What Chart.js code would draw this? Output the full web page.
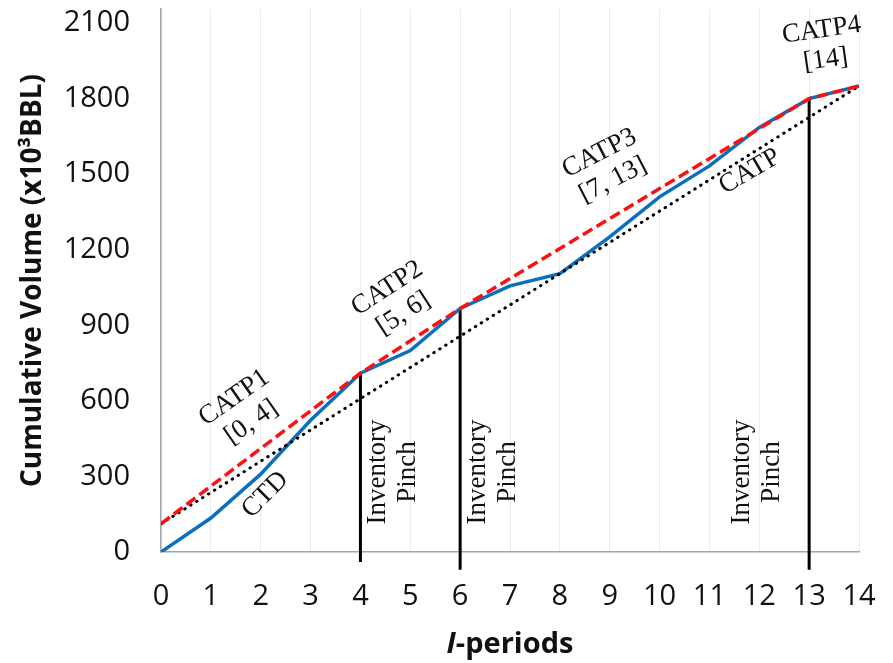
<!DOCTYPE html>
<html>
<head>
<meta charset="utf-8">
<script src="https://cdn.jsdelivr.net/npm/chart.js@4.4.1/dist/chart.umd.min.js"></script>
<style>
  body { margin: 0; background: #fff; }
  #wrap { width: 893px; height: 663px; position: relative; }
</style>
</head>
<body>
<div id="wrap"><canvas id="chart"></canvas></div>
<script>
// values
const periods = [0, 1, 2, 3, 4, 5, 6, 7, 8, 9, 10, 11, 12, 13, 14];
const ctdVolumes = [0, 135, 309, 523, 710, 800, 967, 1057, 1105, 1251, 1410, 1533, 1686, 1800, 1850];
const catpPeriods = [0, 4, 6, 13, 14];
const catpVolumes = [112, 710, 967, 1800, 1850];
const overallPeriods = [0, 14];
const overallVolumes = [112, 1850];
const pinchPeriods = [4, 6, 13];
const pinchTops = [710, 967, 1800];
const pinchBottoms = [-40, -70, -70];
const yTickValues = [0, 300, 600, 900, 1200, 1500, 1800, 2100];

// text placed on the plot (data coords)
const notes = [
  { lines: ['CATP1', '[0, 4]'], x: 1.64, y: 564, angle: -35 },
  { lines: ['CTD'], x: 2.09, y: 227, angle: -45 },
  { lines: ['CATP2', '[5, 6]'], x: 4.70, y: 997, angle: -33 },
  { lines: ['Inventory', 'Pinch'], x: 4.66, y: 318, angle: -90 },
  { lines: ['Inventory', 'Pinch'], x: 6.66, y: 318, angle: -90 },
  { lines: ['Inventory', 'Pinch'], x: 11.95, y: 318, angle: -90 },
  { lines: ['CATP3', '[7, 13]'], x: 8.93, y: 1530, angle: -27 },
  { lines: ['CATP'], x: 11.81, y: 1510, angle: -30 },
  { lines: ['CATP4', '[14]'], x: 13.29, y: 2013, angle: -8 }
];

const pts = (xs, ys) => xs.map((v, i) => ({ x: v, y: ys[i] }));

Chart.defaults.font.family = "'Open Sans', sans-serif";
Chart.defaults.color = '#111';

const datasets = [
  {
    label: 'CATP segments',
    data: pts(catpPeriods, catpVolumes),
    borderColor: '#ff1010',
    borderWidth: 3.5,
    borderDash: [11, 5],
    order: 0
  },
  {
    label: 'CATP',
    data: pts(overallPeriods, overallVolumes),
    borderColor: '#000',
    borderWidth: 3,
    borderDash: [0.5, 6.5],
    borderCapStyle: 'round',
    order: 1
  },
  {
    label: 'CTD',
    data: pts(periods, ctdVolumes),
    borderColor: '#0b6fc0',
    borderWidth: 3.5,
    order: 2
  }
];
pinchPeriods.forEach((p, i) => {
  datasets.push({
    label: 'pinch ' + p,
    data: [{ x: p, y: pinchTops[i] }, { x: p, y: pinchBottoms[i] }],
    borderColor: '#000',
    borderWidth: 3,
    clip: false,
    order: 3
  });
});

const notesPlugin = {
  id: 'notes',
  afterDatasetsDraw(chart) {
    const { ctx, scales: { x, y }, chartArea } = chart;
    ctx.save();
    ctx.fillStyle = '#111';
    ctx.font = '27px "Liberation Serif", "Times New Roman", serif';
    ctx.textAlign = 'center';
    ctx.textBaseline = 'middle';
    notes.forEach(n => {
      ctx.save();
      ctx.translate(x.getPixelForValue(n.x), y.getPixelForValue(n.y));
      ctx.rotate(n.angle * Math.PI / 180);
      n.lines.forEach((t, i) => {
        ctx.fillText(t, 0, (i - (n.lines.length - 1) / 2) * 30);
      });
      ctx.restore();
    });

    // x axis title with italic "I"
    const cx = (chartArea.left + chartArea.right) / 2;
    const base = 653;
    const fi = "italic bold 29px 'Open Sans', sans-serif";
    const fb = "bold 29px 'Open Sans', sans-serif";
    ctx.textAlign = 'left';
    ctx.textBaseline = 'alphabetic';
    ctx.font = fi;
    const wI = ctx.measureText('I').width;
    ctx.font = fb;
    const wR = ctx.measureText('-periods').width;
    const start = cx - (wI + wR) / 2;
    ctx.font = fi;
    ctx.fillText('I', start, base);
    ctx.font = fb;
    ctx.fillText('-periods', start + wI, base);
    ctx.restore();
  }
};

new Chart(document.getElementById('chart'), {
  type: 'line',
  data: { datasets },
  options: {
    responsive: true,
    maintainAspectRatio: false,
    animation: false,
    layout: { padding: { top: 9, right: 34, left: 0, bottom: 0 } },
    elements: { point: { radius: 0 }, line: { tension: 0 } },
    plugins: { legend: { display: false }, tooltip: { enabled: false } },
    scales: {
      x: {
        type: 'linear',
        min: 0,
        max: 14,
        ticks: { stepSize: 1, font: { size: 29 }, color: '#111', padding: 27, callback: v => String(v) },
        grid: { color: '#ebebeb', lineWidth: 1, drawTicks: false },
        border: { display: true, color: '#a6a6a6', width: 1.5 },
        afterFit(s) {
          s.height = 111;
          s.paddingLeft = 0; s.paddingRight = 0;
        }
      },
      y: {
        type: 'linear',
        min: 0,
        max: 2156,
        afterBuildTicks(s) { s.ticks = yTickValues.map(v => ({ value: v })); },
        ticks: { font: { size: 29 }, color: '#111', padding: 31, callback: v => String(v) },
        grid: { display: false, drawTicks: false },
        border: { display: true, color: '#a6a6a6', width: 1.5 },
        title: {
          display: true,
          text: 'Cumulative Volume (x10³BBL)',
          font: { size: 28, weight: 'bold' },
          color: '#111',
          padding: { top: 16, bottom: 0 }
        },
        afterFit(s) {
          s.width = 161;
          s.paddingTop = 0; s.paddingBottom = 0;
        }
      }
    }
  },
  plugins: [notesPlugin]
});
</script>
</body>
</html>
